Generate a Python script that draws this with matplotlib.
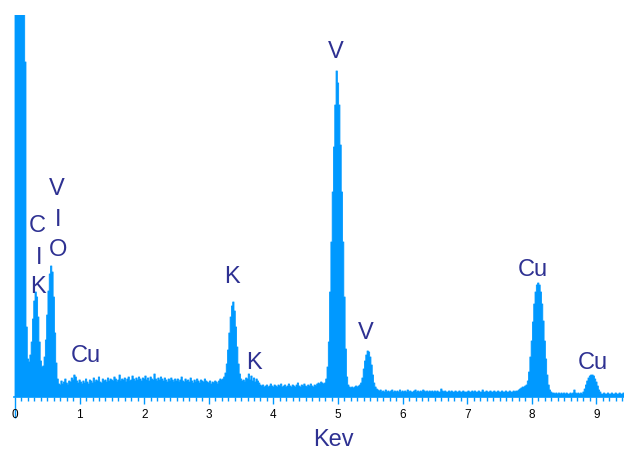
import matplotlib
matplotlib.use("Agg")
import matplotlib.pyplot as plt
from matplotlib.ticker import MultipleLocator
import numpy as np

plt.rcParams['font.family'] = ['Liberation Sans', 'DejaVu Sans']

# EDS spectrum, channel width 0.02 keV, one row = 0.5 keV
step = 0.02
counts = [
    600, 600, 600, 600, 600, 600, 600, 600, 335, 70, 38, 35, 42, 55, 78, 96, 105, 100, 80, 55, 36, 30, 31, 40, 57,
    82, 106, 123, 131, 125, 100, 64, 34, 18, 13, 12, 16, 13, 15, 18, 14, 12, 16, 15, 19, 17, 22, 20, 16, 14,
    17, 15, 13, 16, 14, 18, 15, 13, 17, 16, 14, 19, 15, 17, 16, 20, 15, 14, 18, 16, 17, 15, 19, 16, 18,
    17, 16, 20, 18, 15, 17, 22, 16, 18, 17, 19, 15, 18, 20, 16, 17, 21, 18, 16, 19, 17, 20, 18, 16, 19,
    18, 21, 17, 19, 16, 20, 18, 17, 23, 18, 16, 19, 17, 20, 18, 16, 19, 17, 15, 18, 16, 19, 17, 15, 18,
    16, 18, 15, 17, 20, 16, 15, 18, 16, 17, 15, 19, 16, 14, 17, 15, 18, 16, 14, 17, 16, 15, 18, 16, 15,
    14, 16, 13, 15, 14, 16, 15, 13, 16, 18, 17, 18, 20, 24, 33, 47, 64, 80, 91, 95, 86, 70, 50, 33, 23,
    18, 16, 17, 15, 19, 18, 23, 17, 21, 16, 19, 15, 18, 16, 14, 12, 11, 12, 10, 11, 12, 10, 11, 13, 11,
    10, 12, 11, 10, 12, 11, 13, 10, 11, 12, 10, 11, 13, 11, 10, 12, 11, 10, 12, 14, 11, 10, 12, 11, 13,
    11, 10, 12, 11, 13, 11, 10, 12, 11, 13, 14, 13, 15, 14, 13, 14, 18, 30, 55, 105, 155, 205, 250, 292, 326,
    314, 292, 252, 205, 155, 100, 48, 20, 12, 10, 9, 10, 9, 10, 11, 10, 11, 12, 14, 19, 28, 36, 42, 46, 45,
    40, 32, 22, 14, 10, 8, 7, 6, 7, 5, 6, 5, 7, 5, 6, 5, 6, 7, 5, 6, 5, 6, 5, 7, 5,
    6, 5, 6, 5, 7, 5, 6, 5, 5, 6, 7, 5, 6, 5, 6, 5, 7, 6, 5, 6, 5, 6, 5, 6, 5,
    6, 5, 6, 5, 5, 8, 6, 5, 6, 5, 5, 6, 5, 6, 5, 5, 6, 5, 5, 6, 5, 5, 6, 5, 5,
    5, 6, 5, 5, 6, 5, 6, 5, 5, 6, 5, 5, 7, 5, 5, 6, 5, 5, 6, 5, 5, 6, 5, 5, 6,
    5, 5, 6, 5, 5, 6, 5, 5, 6, 5, 5, 6, 5, 6, 6, 7, 8, 9, 10, 10, 11, 12, 16, 25, 40,
    56, 75, 93, 105, 112, 114, 112, 105, 93, 76, 56, 38, 22, 12, 7, 5, 4, 4, 3, 4, 3, 4, 3, 4, 3,
    4, 3, 4, 3, 3, 4, 3, 4, 7, 4, 3, 4, 3, 4, 3, 5, 8, 12, 16, 19, 21, 22, 22, 21, 18,
    15, 11, 7, 5, 3, 3, 4, 3, 3, 4, 3, 3, 4, 3, 3, 4, 3, 3, 4, 3, 3, 4, 3, 3, 3,
]
energy = np.arange(len(counts)) * step

# peak labels: (text, keV, height)
labels = ['V', 'C', 'I', 'K', 'V', 'I', 'O', 'Cu', 'K', 'K', 'V', 'Cu', 'Cu']
label_x = [4.96, 0.34, 0.37, 0.35, 0.65, 0.67, 0.67, 1.10, 3.36, 3.70, 5.43, 8.02, 8.95]
label_y = [345, 171, 139, 110, 208, 177, 147, 41, 120, 34, 64, 127, 34]

fill_color = '#0099ff'
text_color = '#2e3192'

fig = plt.figure(figsize=(6.24, 4.5), dpi=100)
ax = fig.add_axes([14 / 624, (450 - 397) / 450, 610 / 624, 382 / 450])
ax.fill_between(energy, counts, step='mid', facecolor=fill_color,
                edgecolor=fill_color, lw=0.6)

ax.set_xlim(-1 / 64.6, 609 / 64.6)
ax.set_ylim(0, 382)

for s in ['top', 'left', 'right']:
    ax.spines[s].set_visible(False)
ax.spines['bottom'].set_color(fill_color)
ax.spines['bottom'].set_linewidth(1.2)

ax.set_yticks([])
ax.set_xticks(range(10))
ax.xaxis.set_minor_locator(MultipleLocator(0.1))
ax.tick_params(axis='x', which='major', direction='out', length=5, width=1,
               color=fill_color, labelsize=8.5, pad=4, labelcolor='black')
ax.tick_params(axis='x', which='minor', direction='out', length=3, width=1,
               color=fill_color)
ax.xaxis.get_major_ticks()[0].tick1line.set_markersize(15)

for t, x, y in zip(labels, label_x, label_y):
    ax.text(x, y, t, ha='center', va='center', fontsize=17, color=text_color)

fig.text(333 / 624, 1 - 440 / 450, 'Kev', ha='center', va='center',
         fontsize=17, color=text_color)

fig.savefig('out.png', dpi=100)
